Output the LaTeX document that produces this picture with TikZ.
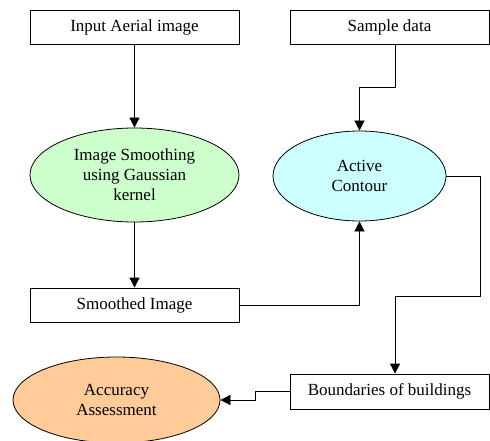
\documentclass[tikz,border=0pt]{standalone}
\usepackage{fontspec}
\setmainfont{Liberation Serif}
\usetikzlibrary{shapes.geometric,arrows.meta}

\definecolor{smoothgreen}{RGB}{204,255,204}
\definecolor{contourcyan}{RGB}{204,255,255}
\definecolor{accorange}{RGB}{255,204,153}

\tikzset{
  box/.style={draw,rectangle,minimum height=34pt,inner sep=0pt,font=\fontsize{17}{20}\selectfont},
  oval/.style={draw,ellipse,inner sep=0pt,align=center,font=\fontsize{17}{20}\selectfont},
  arr/.style={-{Triangle[width=10pt,length=10pt]}},
}

\begin{document}
\begin{tikzpicture}[x=1pt,y=-1pt,line width=0.8pt]
\useasboundingbox (0,0) rectangle (490,441);

\node[box,minimum width=209pt] (input) at (134.5,27) {Input Aerial image};
\node[box,minimum width=199pt] (sample) at (389.5,27) {Sample data};

\node[oval,fill=smoothgreen,minimum width=209pt,minimum height=94pt] (smooth) at (134.5,175) {Image Smoothing\\using Gaussian\\kernel};
\node[oval,fill=contourcyan,minimum width=173pt,minimum height=90pt] (active) at (359.5,176) {Active\\Contour};

\node[box,minimum width=209pt] (smoothed) at (134.5,305) {Smoothed Image};
\node[box,minimum width=199pt,minimum height=35pt] (bound) at (389.5,391.5) {Boundaries of buildings};

\node[oval,fill=accorange,minimum width=207pt,minimum height=86pt] (accuracy) at (116.5,400) {Accuracy\\Assessment};

\coordinate (s1) at (395,87);
\coordinate (c1) at (480,296);
\coordinate (c2) at (395,296);
\coordinate (c3) at (255,400);

\draw[arr] (input) -- (smooth);
\draw[arr] (sample.south -| s1) -- (s1) -| (active.north);
\draw[arr] (smooth) -- (smoothed);
\draw[arr] (smoothed.east) -| (active.south);
\draw[arr] (active.east) -| (c1) -- (c2) -- (c2 |- bound.north);
\draw[arr] (bound.west) -| (c3) -- (accuracy.east);
\end{tikzpicture}
\end{document}
